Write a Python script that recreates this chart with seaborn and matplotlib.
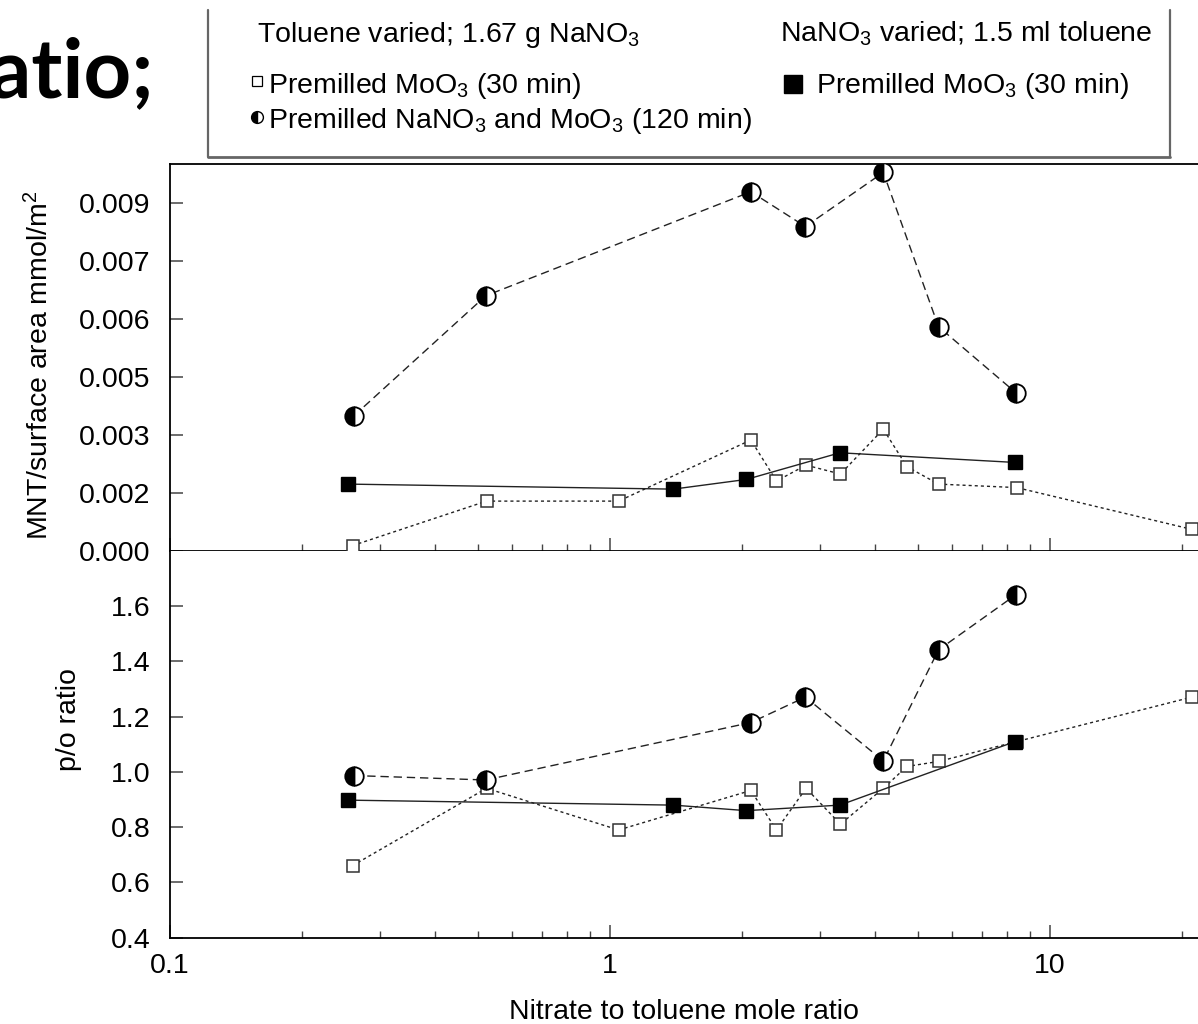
import matplotlib
matplotlib.use("Agg")
import matplotlib.pyplot as plt
from matplotlib.lines import Line2D
from matplotlib.ticker import LogLocator, FixedLocator, NullFormatter
import seaborn as sns
import pandas as pd
import numpy as np

# ---------------- data ----------------
# Toluene varied; 1.67 g NaNO3 - premilled MoO3 (30 min)  (open squares)
open_x = [0.26, 0.524, 1.046, 2.09, 2.39, 2.79, 3.34, 4.18, 4.73, 5.58, 8.4, 21.0]
open_mnt = [0.00014, 0.00129, 0.00129, 0.00287, 0.00181, 0.00222, 0.00199,
            0.00315, 0.00218, 0.00173, 0.00164, 0.00056]
open_po = [0.661, 0.941, 0.790, 0.933, 0.790, 0.941, 0.811, 0.941, 1.020,
           1.038, 1.110, 1.271]

# NaNO3 varied; 1.5 ml toluene - premilled MoO3 (30 min)  (filled squares)
fill_x = [0.254, 1.393, 2.04, 3.33, 8.33]
fill_mnt = [0.00173, 0.00160, 0.00185, 0.00254, 0.00229]
fill_po = [0.898, 0.880, 0.860, 0.880, 1.110]

# Premilled NaNO3 and MoO3 (120 min)  (half-filled circles)
half_x = [0.262, 0.522, 2.09, 2.78, 4.18, 5.58, 8.37]
half_mnt = [0.00350, 0.00660, 0.00929, 0.00839, 0.00979, 0.00580, 0.00409]
half_po = [0.987, 0.971, 1.179, 1.271, 1.040, 1.442, 1.642]

top_ticks = [0.0, 0.0015, 0.003, 0.0045, 0.006, 0.0075, 0.009]
top_ticklabels = ["0.000", "0.002", "0.003", "0.005", "0.006", "0.007", "0.009"]
bot_ticks = [0.4, 0.6, 0.8, 1.0, 1.2, 1.4, 1.6]
bot_ticklabels = ["0.4", "0.6", "0.8", "1.0", "1.2", "1.4", "1.6"]
x_ticks = [0.1, 1, 10]
x_ticklabels = ["0.1", "1", "10"]

# ---------------- style ----------------
sns.set_theme(style="white")
plt.rcParams["font.family"] = ["Liberation Sans", "DejaVu Sans"]
plt.rcParams["mathtext.fontset"] = "custom"
plt.rcParams["mathtext.rm"] = "Liberation Sans"
plt.rcParams["mathtext.it"] = "Liberation Sans"
plt.rcParams["text.color"] = "black"
plt.rcParams["axes.labelcolor"] = "black"
plt.rcParams["xtick.color"] = "black"
plt.rcParams["ytick.color"] = "black"
FS = 20.5

W, H = 1198, 1024
fig = plt.figure(figsize=(W / 100, H / 100), dpi=100)
fig.patch.set_facecolor("white")

left = 170 / W
ax_top = fig.add_axes([left, (H - 551) / H, 1 - left, (551 - 164.3) / H])
ax_bot = fig.add_axes([left, (H - 937.7) / H, 1 - left, (937.7 - 551) / H])

LC = "#222222"
open_kw = dict(marker="s", markersize=9.3, markerfacecolor="white",
               markeredgecolor="#333333", markeredgewidth=1.1, color=LC,
               linewidth=1.0, linestyle=(0, (2.2, 2.2)), zorder=3)
fill_kw = dict(marker="s", markersize=10, markerfacecolor="black",
               markeredgecolor="black", markeredgewidth=1.0, color=LC,
               linewidth=1.0, linestyle="-", zorder=4)
half_kw = dict(marker="o", markersize=13.3, fillstyle="left",
               markerfacecolor="black", markerfacecoloralt="white",
               markeredgecolor="black", markeredgewidth=1.3, color=LC,
               linewidth=1.0, linestyle=(0, (6, 3.5)), zorder=5)

for ax, oy, fy, hy in [(ax_top, open_mnt, fill_mnt, half_mnt),
                       (ax_bot, open_po, fill_po, half_po)]:
    d_open = pd.DataFrame({"x": open_x, "y": oy})
    d_fill = pd.DataFrame({"x": fill_x, "y": fy})
    d_half = pd.DataFrame({"x": half_x, "y": hy})
    sns.lineplot(data=d_open, x="x", y="y", ax=ax, estimator=None, sort=False, **open_kw)
    sns.lineplot(data=d_fill, x="x", y="y", ax=ax, estimator=None, sort=False, **fill_kw)
    sns.lineplot(data=d_half, x="x", y="y", ax=ax, estimator=None, sort=False, **half_kw)
    ax.set_xscale("log")
    ax.set_xlim(0.1, 10 ** ((W - 170) / 440 - 1))
    ax.xaxis.set_major_locator(FixedLocator(x_ticks))
    ax.xaxis.set_minor_locator(LogLocator(base=10, subs=np.arange(2, 10)))
    ax.xaxis.set_minor_formatter(NullFormatter())
    ax.set_facecolor("white")
    for s in ["left", "bottom", "top"]:
        ax.spines[s].set_color("black")
        ax.spines[s].set_linewidth(1.3)
    ax.spines["right"].set_visible(False)
    ax.tick_params(axis="both", which="major", direction="in", length=9.5,
                   width=1.1, color="#444444", labelsize=FS, labelcolor="black")
    ax.tick_params(axis="x", which="minor", direction="in", length=5,
                   width=1.0, color="#444444", bottom=True, top=False)
    ax.tick_params(axis="y", which="both", left=True, right=False, pad=14)
    ax.tick_params(axis="x", which="major", bottom=True, top=False, pad=11)
    ax.grid(False)

ax_top.set_ylim(0, 0.0100)
ax_top.set_yticks(top_ticks)
ax_top.set_yticklabels(top_ticklabels)
ax_top.set_xticklabels([])
ax_top.set_xlabel("")
ax_top.set_ylabel("MNT/surface area mmol/m$^2$", fontsize=FS, color="black")
ax_top.yaxis.set_label_coords(-0.113, 0.48)

ax_bot.set_ylim(0.4, 1.8)
ax_bot.set_yticks(bot_ticks)
ax_bot.set_yticklabels(bot_ticklabels)
ax_bot.set_xticklabels(x_ticklabels)
ax_bot.spines["top"].set_visible(False)
ax_bot.set_ylabel("p/o ratio", fontsize=FS, color="black")
ax_bot.yaxis.set_label_coords(-0.086, 0.563)
ax_bot.set_xlabel("Nitrate to toluene mole ratio", fontsize=FS, color="black")
ax_bot.xaxis.set_label_coords(0.5, -0.158)

# ---------------- legend box (figure coords) ----------------
def fx(px):
    return px / W

def fy(py):
    return 1 - py / H

box_c = "#666666"
fig.add_artist(Line2D([fx(207.5), fx(207.5)], [fy(10), fy(157)], color=box_c, lw=1.6,
                      transform=fig.transFigure))
fig.add_artist(Line2D([fx(1169.5), fx(1169.5)], [fy(10), fy(157)], color=box_c, lw=1.6,
                      transform=fig.transFigure))
fig.add_artist(Line2D([fx(207.5), fx(1169.5)], [fy(157), fy(157)], color=box_c, lw=2.0,
                      transform=fig.transFigure))

fig.text(fx(257), fy(42), "Toluene varied; 1.67 g NaNO$_3$", fontsize=FS,
         ha="left", va="baseline")
fig.text(fx(780), fy(42), "NaNO$_3$ varied; 1.5 ml toluene", fontsize=FS,
         ha="left", va="baseline")

fig.add_artist(Line2D([fx(257)], [fy(81)], marker="s", markersize=7.5,
                      markerfacecolor="white", markeredgecolor="black",
                      markeredgewidth=0.9, linestyle="none", transform=fig.transFigure))
fig.text(fx(268), fy(93), "Premilled MoO$_3$ (30 min)", fontsize=FS, ha="left", va="baseline")

fig.add_artist(Line2D([fx(793)], [fy(84)], marker="s", markersize=12.5,
                      markerfacecolor="black", markeredgecolor="black",
                      linestyle="none", transform=fig.transFigure))
fig.text(fx(816), fy(93), "Premilled MoO$_3$ (30 min)", fontsize=FS, ha="left", va="baseline")

fig.add_artist(Line2D([fx(257)], [fy(117)], marker="o", markersize=8.5, fillstyle="left",
                      markerfacecolor="black", markerfacecoloralt="white",
                      markeredgecolor="black", markeredgewidth=1.0,
                      linestyle="none", transform=fig.transFigure))
fig.text(fx(268), fy(128), "Premilled NaNO$_3$ and MoO$_3$ (120 min)", fontsize=FS,
         ha="left", va="baseline")

# background slide fragment (cut off at the left edge, as in the reference)
fig.text(fx(155), fy(97), "ratio;", fontsize=60, fontweight="bold", color="black",
         family=["Lato", "DejaVu Sans"], ha="right", va="baseline")

fig.savefig("out.png", dpi=100, facecolor="white")
